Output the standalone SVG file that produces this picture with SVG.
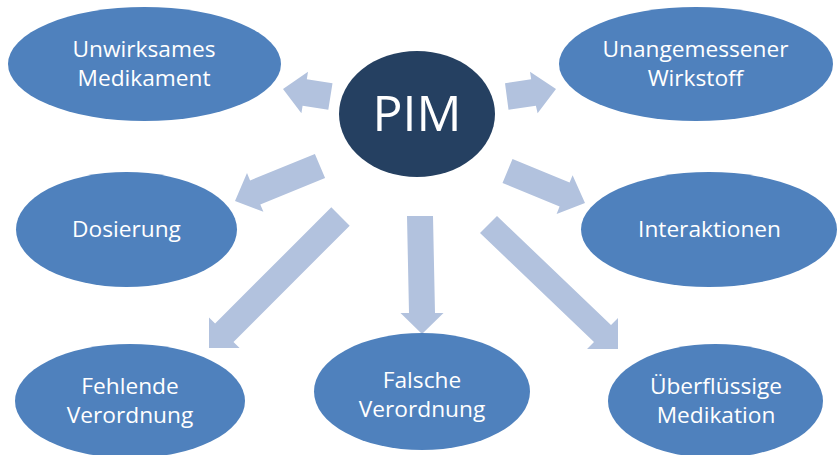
<svg xmlns="http://www.w3.org/2000/svg" width="837" height="455" viewBox="0 0 837 455">
<style>
.node{fill:#4F81BD}
.hub{fill:#254061}
.lbl{font-family:"Open Sans","Noto Sans","DejaVu Sans",sans-serif;font-size:22.7px;fill:#FFFFFF;text-anchor:middle}
.hubl{font-family:"Open Sans","Noto Sans","DejaVu Sans",sans-serif;font-size:50px;fill:#FFFFFF;text-anchor:middle}
.arr{fill:#B2C2DE}
</style>
<rect width="837" height="455" fill="#FFFFFF"/>
<g id="connectors">
<polygon class="arr" points="332.5,83.2 306.8,79.2 308,71.8 283,89 301.4,113.2 302.6,105.8 328.3,109.8"/>
<polygon class="arr" points="505,83.2 531.2,79.2 530,71.8 556,89 537.6,113.2 535.9,105.8 508.5,109.8"/>
<polygon class="arr" points="314.9,154 250.1,180.4 247,173.1 235,201 263.4,211.7 260.3,204.4 325.1,178"/>
<polygon class="arr" points="512.5,159 569.6,182.6 572.6,175.2 585,203 556.6,214 559.6,206.6 502.5,183"/>
<polygon class="arr" points="331.3,207.3 215.1,323.5 209,317.4 209,348 239.6,348 233.5,341.9 349.7,225.7"/>
<polygon class="arr" points="407,216 433,216 435,313 443.5,313 422,334 400.5,313 409,313"/>
<polygon class="arr" points="497,216 611,325 618,318 618,349 587,349 594,342 480,233"/>
</g>
<g id="pim">
<ellipse class="hub" cx="417" cy="114" rx="78" ry="63"/>
<text class="hubl" x="417" y="131">PIM</text>
</g>
<g id="unwirksames">
<ellipse class="node" cx="144.5" cy="64" rx="136.5" ry="57"/>
<text class="lbl" x="144" y="57">Unwirksames</text>
<text class="lbl" x="144" y="86">Medikament</text>
</g>
<g id="unangemessener">
<ellipse class="node" cx="696" cy="64" rx="137" ry="57"/>
<text class="lbl" x="695.5" y="57">Unangemessener</text>
<text class="lbl" x="695.5" y="86">Wirkstoff</text>
</g>
<g id="dosierung">
<ellipse class="node" cx="126.5" cy="229.5" rx="110.5" ry="57.5"/>
<text class="lbl" x="126.5" y="237">Dosierung</text>
</g>
<g id="interaktionen">
<ellipse class="node" cx="709" cy="229.5" rx="128" ry="57.5"/>
<text class="lbl" x="709.5" y="237">Interaktionen</text>
</g>
<g id="fehlende">
<ellipse class="node" cx="130" cy="401" rx="115" ry="57"/>
<text class="lbl" x="130" y="394">Fehlende</text>
<text class="lbl" x="130" y="423">Verordnung</text>
</g>
<g id="falsche">
<ellipse class="node" cx="422" cy="391.5" rx="108" ry="58.5"/>
<text class="lbl" x="422" y="388">Falsche</text>
<text class="lbl" x="422" y="417">Verordnung</text>
</g>
<g id="ueberfluessige">
<ellipse class="node" cx="715.5" cy="401" rx="107.5" ry="57"/>
<text class="lbl" x="716" y="394">Überflüssige</text>
<text class="lbl" x="716" y="423">Medikation</text>
</g>
</svg>
